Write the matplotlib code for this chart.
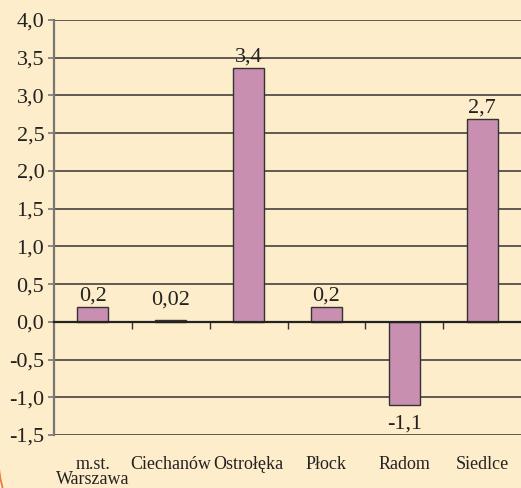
import numpy as np
import matplotlib.pyplot as plt
from matplotlib.patches import FancyBboxPatch
from matplotlib.transforms import IdentityTransform

# data
categories = ['m.st.\nWarszawa', 'Ciechanów', 'Ostrołęka', 'Płock', 'Radom', 'Siedlce']
values = [0.2, 0.02, 3.36, 0.2, -1.1, 2.69]
value_labels = ['0,2', '0,02', '3,4', '0,2', '-1,1', '2,7']
yticks = [-1.5, -1.0, -0.5, 0.0, 0.5, 1.0, 1.5, 2.0, 2.5, 3.0, 3.5, 4.0]

cream = '#FEEDCA'
bar_color = '#C98FB0'

plt.rcParams['font.family'] = 'serif'
plt.rcParams['font.serif'] = ['Liberation Serif', 'Times New Roman', 'DejaVu Serif']

fig = plt.figure(figsize=(5.21, 4.88), dpi=100, facecolor='white')

# cream panel with rounded lower-left corner (pixel coords)
panel = FancyBboxPatch((-2, -62), 800, 800,
                       boxstyle='round,pad=0,rounding_size=100',
                       transform=IdentityTransform(), facecolor=cream,
                       edgecolor='#F07A3A', linewidth=1.3, zorder=-5)
fig.patches.append(panel)

ax = fig.add_axes([54 / 521, 1 - 435 / 488, 1 - 54 / 521, (435 - 20) / 488])
ax.set_facecolor('none')
ax.set_zorder(2)

x = np.arange(len(categories))
ax.bar(x, values, width=0.4, color=bar_color, edgecolor='#333333',
       linewidth=1.0, zorder=3)

ax.set_xlim(-0.5, len(categories) - 0.5)
ax.set_ylim(-1.5, 4.0)
ax.set_yticks(yticks)
ax.set_yticklabels([f'{t:.1f}'.replace('.', ',') for t in yticks], fontsize=16)
ax.tick_params(axis='y', direction='out', length=4, width=1.2, color='#777777',
               pad=3, labelcolor='#222222')
ax.yaxis.grid(True, color='#333333', linewidth=1.1, zorder=1)
ax.set_axisbelow(True)

for s in ['top', 'right']:
    ax.spines[s].set_visible(False)
ax.spines['left'].set_color('#777777')
ax.spines['left'].set_linewidth(1.6)
ax.spines['bottom'].set_position(('data', 0))
ax.spines['bottom'].set_color('#222222')
ax.spines['bottom'].set_linewidth(1.6)
ax.spines['bottom'].set_zorder(4)

# category boundary ticks on the zero line
ax.set_xticks(x[:-1] + 0.5)
ax.set_xticklabels([])
ax.tick_params(axis='x', direction='out', length=5, width=1.0, color='#333333')

# category labels below the plot
for xi, name in zip(x, categories):
    ax.text(xi, -1.5 - 0.28, name, ha='center', va='top',
            fontsize=13, color='#222222', linespacing=0.8)

# value labels
for xi, v, lab in zip(x, values, value_labels):
    if v >= 0:
        ax.annotate(lab, (xi, max(v, 0.15)), xytext=(0, 1), textcoords='offset points',
                    ha='center', va='bottom', fontsize=16, color='#222222')
    else:
        ax.annotate(lab, (xi, v), xytext=(0, -7), textcoords='offset points',
                    ha='center', va='top', fontsize=16, color='#222222')

fig.savefig('out.png', dpi=100, facecolor='white')
